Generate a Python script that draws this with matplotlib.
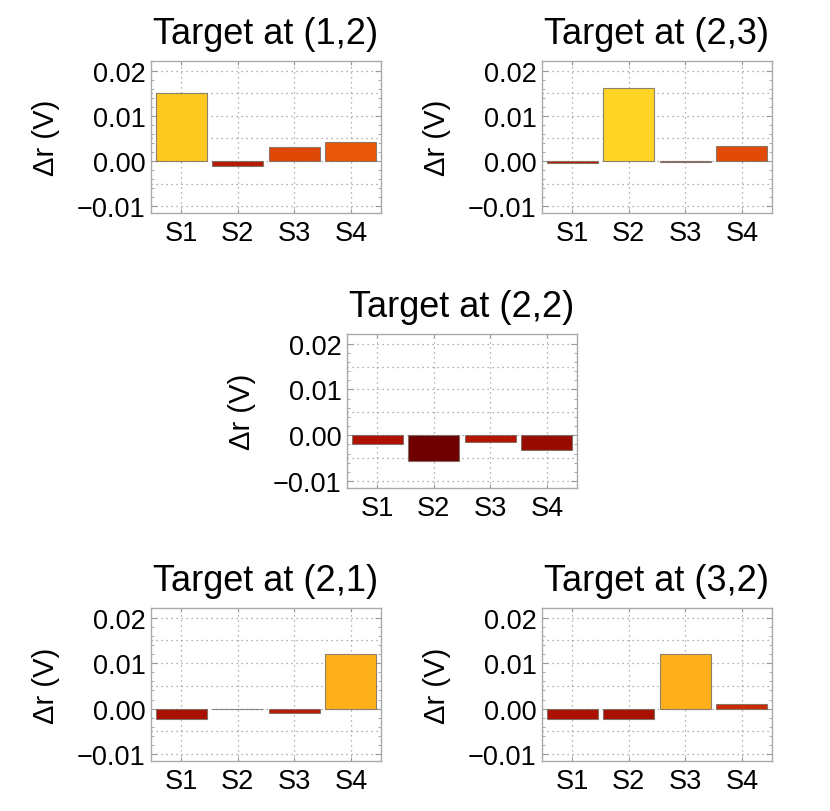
import numpy as np
import matplotlib
matplotlib.use("Agg")
import matplotlib.pyplot as plt
from matplotlib.colors import LinearSegmentedColormap, Normalize
from matplotlib.ticker import MultipleLocator, FuncFormatter

plt.rcParams['font.family'] = ['Liberation Sans', 'DejaVu Sans']

sensors = ["S1", "S2", "S3", "S4"]
titles = ["Target at (1,2)", "Target at (2,3)", "Target at (2,2)",
          "Target at (2,1)", "Target at (3,2)"]
dr_12 = [0.0150, -0.0011, 0.0031, 0.0041]
dr_23 = [-0.0005, 0.0161, -0.0002, 0.0033]
dr_22 = [-0.0020, -0.0056, -0.0015, -0.0033]
dr_21 = [-0.0023, -0.0001, -0.0009, 0.0120]
dr_32 = [-0.0022, -0.0023, 0.0120, 0.0010]
all_dr = [dr_12, dr_23, dr_22, dr_21, dr_32]

# Mathematica-like solar palette
solar = LinearSegmentedColormap.from_list("solar", [
    (0.00, "#6E0000"), (0.17, "#B01200"), (0.30, "#CC2A02"),
    (0.40, "#E04806"), (0.45, "#EC5808"), (0.62, "#F7850F"),
    (0.81, "#FDB01A"), (0.95, "#FDC820"), (1.00, "#FFD424")])
vals = np.concatenate(all_dr)
norm = Normalize(vmin=vals.min(), vmax=vals.max())


def fmt(v, pos):
    s = "%.2f" % abs(v)
    return ("\u2212" + s) if v < -1e-9 else s


W, H = 830, 812
fig = plt.figure(figsize=(W / 100, H / 100), dpi=100)

# axes boxes in pixels: left, top, right, bottom
boxes = [(151, 62, 381, 214), (542, 62, 772, 214), (347, 335, 577, 489),
         (151, 609, 381, 762), (542, 609, 772, 762)]

x = np.arange(1, 5)
for title, dr, (l, t, r, b) in zip(titles, all_dr, boxes):
    ax = fig.add_axes([l / W, 1 - b / H, (r - l) / W, (b - t) / H])
    ax.bar(x, dr, width=0.9, color=solar(norm(np.array(dr))),
           edgecolor=(0.45, 0.42, 0.38, 0.8), linewidth=0.8, zorder=3)
    ax.set_xlim(0.47, 4.53)
    ax.set_ylim(-0.0115, 0.0221)
    ax.set_xticks(x)
    ax.set_xticklabels(sensors)
    ax.yaxis.set_major_locator(MultipleLocator(0.01))
    ax.yaxis.set_minor_locator(MultipleLocator(0.002))
    ax.yaxis.set_major_formatter(FuncFormatter(fmt))
    ax.tick_params(axis="both", which="both", direction="in", labelsize=19.5,
                   color="#999999", top=True, right=True)
    ax.tick_params(axis="y", which="major", length=4, pad=4)
    ax.tick_params(axis="y", which="minor", length=2)
    ax.tick_params(axis="x", length=3, pad=5)
    for yg in np.arange(-0.01, 0.0201, 0.005):
        ax.axhline(yg, color="#999999", lw=0.9, ls=(0, (1, 3)), zorder=1)
    for xg in x:
        ax.axvline(xg, color="#999999", lw=0.9, ls=(0, (1, 3)), zorder=1)
    for sp in ax.spines.values():
        sp.set_color("#AAAAAA")
        sp.set_linewidth(1.0)
    ax.set_ylabel("Δr (V)", fontsize=21, labelpad=12)
    ax.set_title(title, fontsize=26, pad=13)

fig.savefig("out.png", dpi=100)
